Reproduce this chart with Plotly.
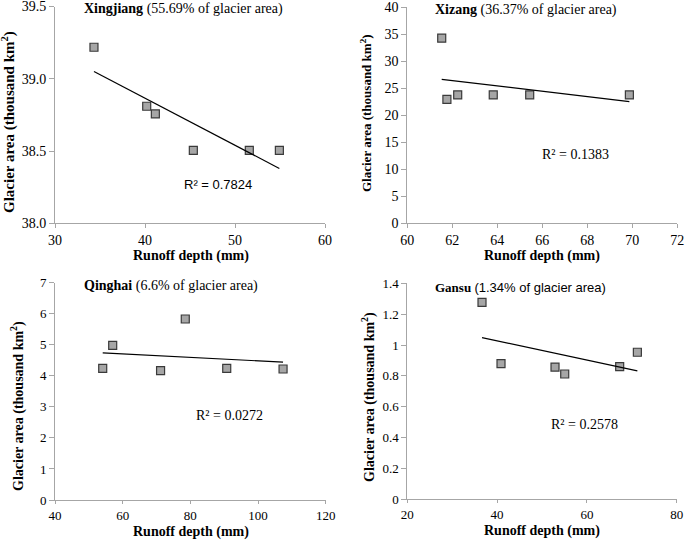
import numpy as np
import plotly.graph_objects as go

W, H = 685, 540

# ---------------- data ----------------
regions = ["Xingjiang", "Xizang", "Qinghai", "Gansu"]
shares = ["(55.69% of glacier area)", "(36.37% of glacier area)",
          "(6.6% of glacier area)", "(1.34% of glacier area)"]
r2_labels = ["R² = 0.7824", "R² = 0.1383", "R² = 0.0272", "R² = 0.2578"]

xj_runoff = [34.33, 40.19, 41.15, 45.37, 51.59, 54.93]
xj_area = [39.218, 38.81, 38.757, 38.504, 38.504, 38.504]
xz_runoff = [61.53, 61.76, 62.24, 63.82, 65.44, 69.87]
xz_area = [34.23, 22.93, 23.74, 23.74, 23.74, 23.74]
qh_runoff = [54.1, 57.05, 71.2, 78.5, 90.75, 107.4]
qh_area = [4.24, 4.98, 4.165, 5.83, 4.24, 4.22]
gs_runoff = [36.64, 40.87, 52.9, 55.06, 67.3, 71.24]
gs_area = [1.277, 0.879, 0.857, 0.812, 0.860, 0.953]

xs = [xj_runoff, xz_runoff, qh_runoff, gs_runoff]
ys = [xj_area, xz_area, qh_area, gs_area]

x_ranges = [[30, 60], [60, 72], [40, 120], [20, 80]]
x_dticks = [10, 2, 20, 20]
y_ranges = [[38, 39.5], [0, 40], [0, 7], [0, 1.4]]
y_dticks = [0.5, 5, 1, 0.2]
y_formats = [".1f", "", "", ""]


def px_x(p):
    return p / W


def px_y(p):
    return 1 - p / H


# ---------------- layout geometry (pixels) ----------------
dom_px = [  # x0, x1, ytop, ybottom
    (55, 325, 6.5, 223.3),
    (407.3, 677.3, 7, 223.3),
    (55, 325.7, 282.7, 500),
    (407.3, 676.7, 283.3, 499.3),
]
tick_sizes = [14, 14, 13, 13]
x_ticklens = [4, 4, 3, 3]

SERIF = "Liberation Serif"
SANS = "Liberation Sans"
AXC = "#A6A6A6"

fig = go.Figure()
layout = dict(
    width=W, height=H, margin=dict(l=0, r=0, t=0, b=0, autoexpand=False),
    paper_bgcolor="white", plot_bgcolor="white", showlegend=False,
)

annotations = []
for i in range(4):
    n = "" if i == 0 else str(i + 1)
    x0, x1, yt, yb = dom_px[i]
    layout["xaxis" + n] = dict(
        domain=[px_x(x0), px_x(x1)], range=x_ranges[i], dtick=x_dticks[i],
        tick0=x_ranges[i][0], automargin=False, ticklabeloverflow="allow",
        anchor="y" + n, showgrid=False, zeroline=False, showline=True, linecolor=AXC,
        linewidth=1, ticks="outside", ticklen=x_ticklens[i], tickcolor=AXC,
        tickfont=dict(family=SERIF, size=tick_sizes[i], color="black"),
    )
    layout["yaxis" + n] = dict(
        domain=[px_y(yb), px_y(yt)], range=y_ranges[i], dtick=y_dticks[i],
        tick0=y_ranges[i][0], automargin=False, ticklabeloverflow="allow",
        anchor="x" + n, showgrid=False, zeroline=False, showline=True, linecolor=AXC,
        linewidth=1, ticks="outside", ticklen=5, tickcolor=AXC, tickformat=y_formats[i],
        tickfont=dict(family=SERIF, size=tick_sizes[i], color="black"),
    )
    xa = "x" + n
    ya = "y" + n
    fig.add_trace(go.Scatter(
        x=xs[i], y=ys[i], mode="markers", xaxis=xa, yaxis=ya, cliponaxis=False,
        marker=dict(symbol="square", size=8, color="#A6A6A6",
                    line=dict(color="#3A3A3A", width=1.2)),
    ))
    # linear trendline from data
    k, b = np.polyfit(xs[i], ys[i], 1)
    tx = np.array([min(xs[i]), max(xs[i])])
    fig.add_trace(go.Scatter(
        x=tx, y=k * tx + b, mode="lines", xaxis=xa, yaxis=ya,
        line=dict(color="black", width=1.2),
    ))

# panel titles (pixel positions)
title_px = [(82, 9), (432.7, 10), (82, 286), (433, 287)]
share_font = [SERIF, SERIF, SERIF, SANS]
for i in range(4):
    px, py = title_px[i]
    annotations.append(dict(
        xref="paper", yref="paper", x=px_x(px), y=px_y(py), xanchor="left", yanchor="middle",
        showarrow=False,
        text=f"<b>{regions[i]}</b> <span style='font-family:{share_font[i]}'>{shares[i]}</span>",
        font=dict(family=SERIF, size=14 if i != 3 else 13, color="black"),
    ))

# R² labels
r2_px = [(218, 184), (575.7, 154), (230, 415), (584, 424)]
r2_font = [SANS, SERIF, SERIF, SERIF]
for i in range(4):
    px, py = r2_px[i]
    annotations.append(dict(
        xref="paper", yref="paper", x=px_x(px), y=px_y(py), xanchor="center", yanchor="middle",
        showarrow=False, text=r2_labels[i],
        font=dict(family=r2_font[i], size=13 if i == 0 else 14, color="black"),
    ))

# axis titles
ytitle_px = [(9, 122, 15), (366, 113, 13), (17, 406, 14), (368, 397, 14)]
xtitle_px = [(191, 256), (541.7, 256), (191, 531.5), (541.7, 531)]
for i in range(4):
    px, py, fs = ytitle_px[i]
    annotations.append(dict(
        xref="paper", yref="paper", x=px_x(px), y=px_y(py), xanchor="center", yanchor="middle",
        showarrow=False, textangle=-90,
        text="<b>Glacier area (thousand km<sup>2</sup>)</b>",
        font=dict(family=SERIF, size=fs, color="black"),
    ))
    px, py = xtitle_px[i]
    annotations.append(dict(
        xref="paper", yref="paper", x=px_x(px), y=px_y(py), xanchor="center", yanchor="middle",
        showarrow=False, text="<b>Runoff depth (mm)</b>",
        font=dict(family=SERIF, size=14, color="black"),
    ))

layout["annotations"] = annotations
fig.update_layout(**layout)
fig.write_html("out.html", config={"displayModeBar": False},
               post_script="document.body.style.margin='0px';document.body.style.overflow='hidden';")
